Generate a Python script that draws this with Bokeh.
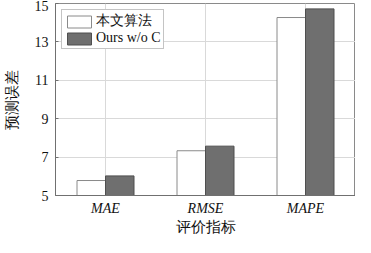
from bokeh.plotting import figure
from bokeh.models import ColumnDataSource, Range1d, FactorRange, FixedTicker, Legend, LegendItem
from bokeh.transform import dodge
from bokeh.embed import file_html
from bokeh.resources import INLINE

categories = ["MAE", "RMSE", "MAPE"]
ours = [5.78, 7.33, 14.27]
ours_wo_c = [6.02, 7.57, 14.72]
series_names = ["本文算法", "Ours w/o C"]
y_ticks = [5, 7, 9, 11, 13, 15]
x_title = "评价指标"
y_title = "预测误差"

src = ColumnDataSource(dict(cat=categories, a=ours, b=ours_wo_c))

SERIF = "Liberation Serif"

p = figure(width=355, height=237, x_range=FactorRange(*categories, range_padding=0),
           y_range=Range1d(5, 15), output_backend="svg", toolbar_location=None,
           min_border_left=50, min_border_right=0, min_border_top=3, min_border_bottom=0)

r1 = p.vbar(x=dodge("cat", -0.1425, range=p.x_range), top="a", bottom=5, width=0.285, source=src,
            fill_color="white", line_color="#8a8a8a", line_width=1)
r2 = p.vbar(x=dodge("cat", 0.1425, range=p.x_range), top="b", bottom=5, width=0.285, source=src,
            fill_color="#6f6f6f", line_color="#4f4f4f", line_width=1)

p.outline_line_color = "#8a8a8a"
p.outline_line_width = 1
p.xgrid.grid_line_color = "#d9d9d9"
p.ygrid.grid_line_color = "#d9d9d9"
p.ygrid.ticker = FixedTicker(ticks=y_ticks)

p.yaxis.ticker = FixedTicker(ticks=y_ticks)
for ax in (p.xaxis[0], p.yaxis[0]):
    ax.axis_line_color = "#707070"
    ax.major_tick_line_color = "#707070"
    ax.major_tick_out = 0
    ax.major_tick_in = 3
    ax.minor_tick_line_color = None
    ax.major_label_text_color = "#111111"
    ax.axis_label_text_color = "#111111"
    ax.axis_label_text_font_style = "normal"
    ax.axis_label_text_font = SERIF
    ax.axis_label_text_font_size = "15px"

p.yaxis.major_label_text_font = SERIF
p.yaxis.major_label_text_font_size = "14px"
p.yaxis.major_label_standoff = 7
p.yaxis.axis_label = y_title
p.yaxis.axis_label_standoff = 12

p.xaxis.major_tick_in = 0
p.xaxis.major_label_text_font = SERIF
p.xaxis.major_label_text_font_style = "italic"
p.xaxis.major_label_text_font_size = "14px"
p.xaxis.major_label_standoff = 5
p.xaxis.axis_label = x_title
p.xaxis.axis_label_standoff = 0

legend = Legend(items=[LegendItem(label=series_names[0], renderers=[r1]),
                       LegendItem(label=series_names[1], renderers=[r2])],
                location="top_left")
legend.margin = 6
legend.padding = 2
legend.spacing = 0
legend.glyph_width = 30
legend.glyph_height = 15
legend.label_standoff = 2
legend.label_height = 15
legend.label_text_font = SERIF
legend.label_text_font_size = "14px"
legend.label_text_color = "#111111"
legend.border_line_color = "#8a8a8a"
legend.border_line_width = 1
legend.background_fill_alpha = 1
p.add_layout(legend)

open("out.html", "w").write(file_html(p, INLINE))
